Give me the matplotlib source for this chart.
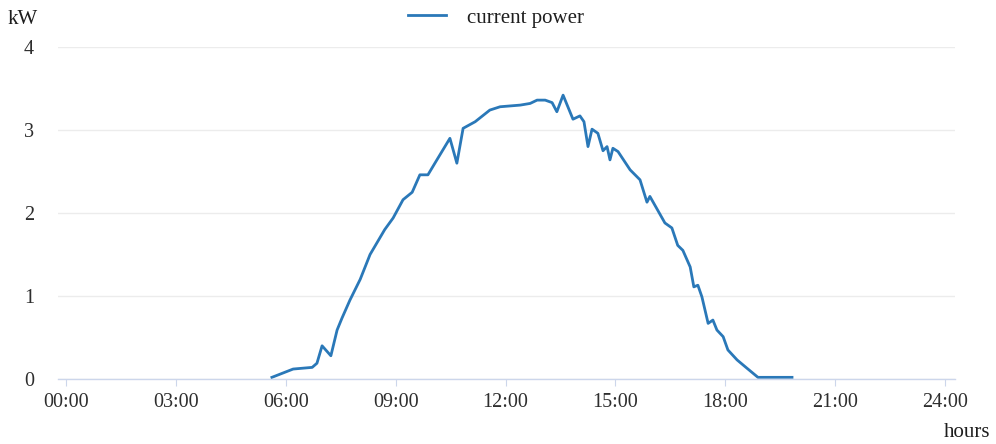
import numpy as np
import matplotlib.pyplot as plt

# power readings (hours of day, kW)
hours = [5.62, 6.2, 6.72, 6.85, 6.99, 7.23, 7.40, 7.53, 7.75, 8.03, 8.3, 8.7,
         8.93, 9.2, 9.45, 9.66, 9.88, 10.07, 10.48, 10.67, 10.84, 11.17, 11.57,
         11.85, 12.4, 12.67, 12.86, 13.08, 13.27, 13.4, 13.57, 13.84, 14.03,
         14.14, 14.25, 14.36, 14.52, 14.66, 14.77, 14.85, 14.93, 15.07, 15.4,
         15.67, 15.86, 15.94, 16.35, 16.54, 16.7, 16.84, 17.04, 17.14, 17.25,
         17.36, 17.53, 17.66, 17.77, 17.94, 18.07, 18.32, 18.59, 18.89, 19.82]
power = [0.02, 0.12, 0.14, 0.19, 0.40, 0.28, 0.59, 0.73, 0.95, 1.2, 1.5, 1.8,
         1.94, 2.16, 2.25, 2.46, 2.46, 2.6, 2.9, 2.6, 3.02, 3.1, 3.24,
         3.28, 3.3, 3.32, 3.36, 3.36, 3.33, 3.22, 3.42, 3.13, 3.17,
         3.1, 2.8, 3.01, 2.96, 2.75, 2.8, 2.64, 2.78, 2.74, 2.52,
         2.4, 2.13, 2.2, 1.88, 1.82, 1.61, 1.55, 1.35, 1.11, 1.13,
         0.99, 0.67, 0.71, 0.59, 0.51, 0.35, 0.23, 0.13, 0.02, 0.02]
xticks = [0, 3, 6, 9, 12, 15, 18, 21, 24]
xlabels = ["00:00", "03:00", "06:00", "09:00", "12:00", "15:00", "18:00", "21:00", "24:00"]
yticks = [0, 1, 2, 3, 4]

plt.rcParams['font.family'] = ['Liberation Serif', 'DejaVu Serif']

fig = plt.figure(figsize=(9.96, 4.44), dpi=100)
ax = fig.add_axes([58/996, 65/444, 897/996, 332/444])

ax.plot(hours, power, color='#2a78b8', linewidth=2.0, label='current power',
        solid_joinstyle='round')

ax.set_xlim(-0.22, 24.27)
ax.set_ylim(0, 4)
ax.set_xticks(xticks)
ax.set_xticklabels(xlabels)
ax.set_yticks(yticks)
ax.grid(axis='y', color='#ececec', linewidth=1)
ax.set_axisbelow(True)

for s in ['top', 'right', 'left']:
    ax.spines[s].set_visible(False)
ax.spines['bottom'].set_color('#ccd6eb')
ax.spines['bottom'].set_linewidth(1)

ax.tick_params(axis='x', length=5, color='#ccd6eb', labelsize=14.5, labelcolor='#2e2e2e', pad=5)
ax.tick_params(axis='y', length=0, labelsize=14.5, labelcolor='#2e2e2e', pad=21)
for lbl in ax.get_yticklabels():
    lbl.set_horizontalalignment('center')

fig.text(8/996, 1 - 19/444, 'kW', fontsize=15, color='#1e1e1e', va='center', ha='left')
fig.text(990/996, 1 - 432/444, 'hours', fontsize=15, color='#1e1e1e', va='center', ha='right')

leg = fig.legend(loc='center', bbox_to_anchor=(496/996, 1 - 18/444), frameon=False,
                 fontsize=15, handlelength=1.8, handletextpad=1.0)
for t in leg.get_texts():
    t.set_color('#1e1e1e')

fig.savefig('out.png', dpi=100, facecolor='w')
